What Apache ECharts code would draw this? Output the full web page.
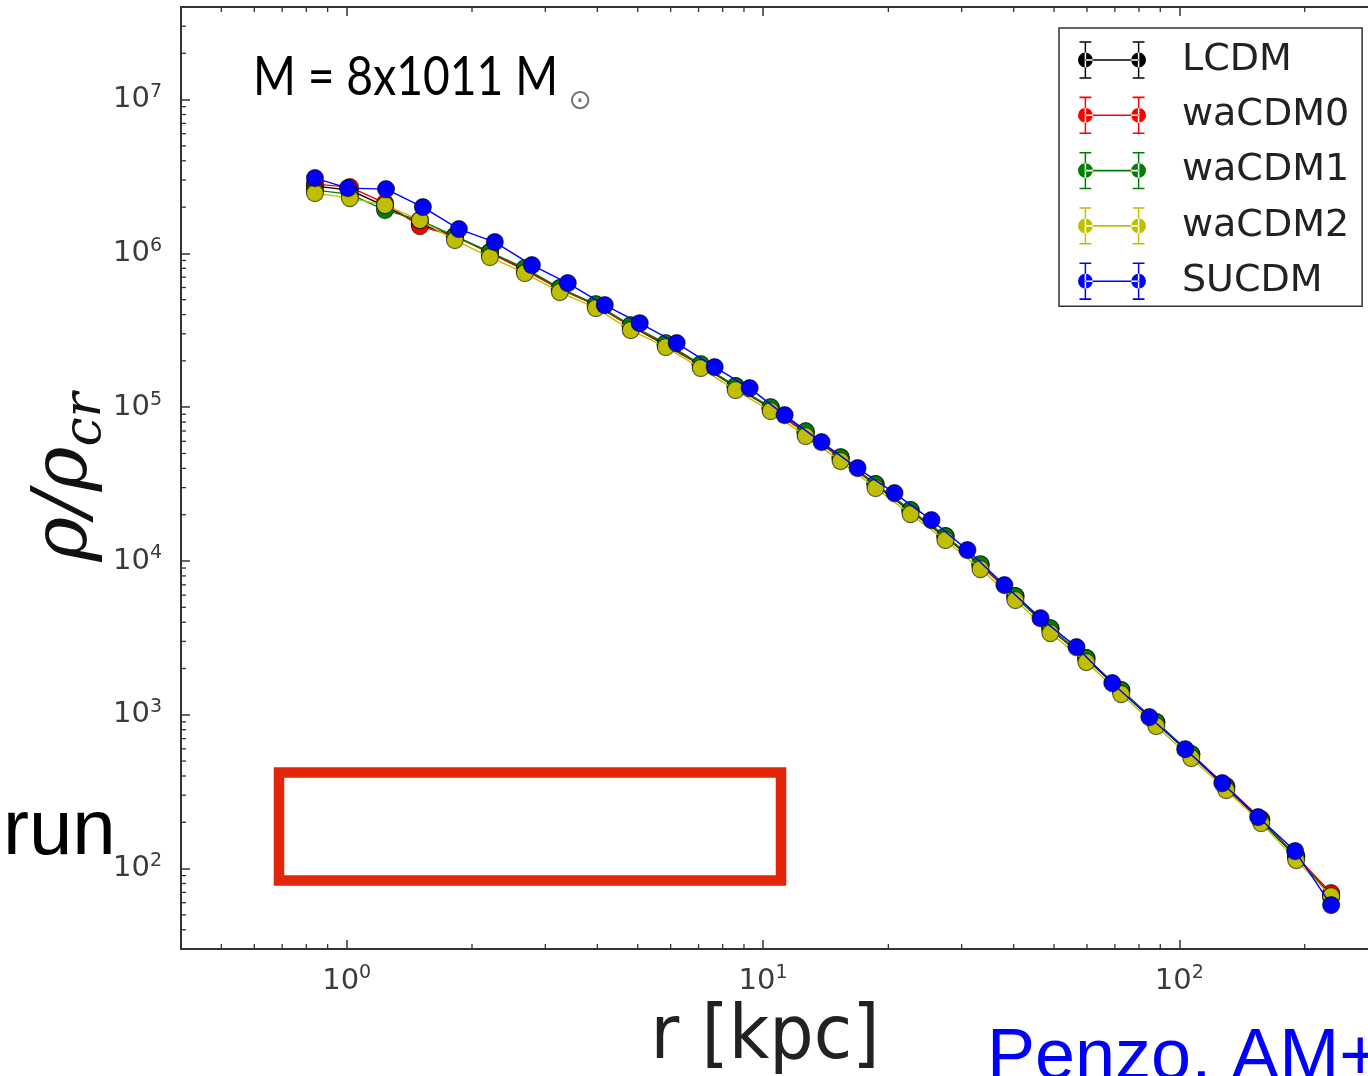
<!DOCTYPE html>
<html>
<head>
<meta charset="utf-8">
<script src="https://cdn.jsdelivr.net/npm/echarts@6/dist/echarts.min.js"></script>
<style>
html,body{margin:0;padding:0;background:#fff;}
#chart{width:1368px;height:1076px;}
</style>
</head>
<body>
<div id="chart"></div>
<script>
// ---- data ----
const seriesNames = ['LCDM', 'waCDM0', 'waCDM1', 'waCDM2', 'SUCDM'];
const seriesColors = ['#000000', '#ff0000', '#008000', '#bfbf00', '#0000ff'];

// radial bins (kpc)
const rBins30 = [0.839, 1.018, 1.236, 1.499, 1.819, 2.208, 2.679, 3.251, 3.966, 4.812,
  5.839, 7.086, 8.596, 10.43, 12.66, 15.36, 18.63, 22.61, 27.43, 33.29,
  40.38, 49.0, 59.8, 72.5, 88.0, 106.8, 129.6, 157.2, 190.8, 231.5];
const rBins29 = [0.839, 1.007, 1.243, 1.524, 1.860, 2.269, 2.785, 3.397, 4.168, 5.057,
  6.204, 7.654, 9.287, 11.27, 13.82, 16.87, 20.69, 25.38, 30.97, 38.0,
  46.4, 56.6, 69.0, 84.7, 103.3, 126.8, 154.6, 189.7, 231.5];

// rho / rho_cr
const lcdm = [2.739e6, 2.580e6, 2.030e6, 1.550e6, 1.296e6, 1.020e6, 7.79e5, 5.95e5, 4.61e5, 3.368e5,
  2.533e5, 1.878e5, 1.351e5, 9.86e4, 6.89e4, 4.67e4, 3.115e4, 2.110e4, 1.430e4, 9.40e3,
  5.83e3, 3.607e3, 2.302e3, 1.426e3, 883, 547, 333.7, 203.6, 118.8, 67.2];
const wacdm0 = [2.822e6, 2.698e6, 2.124e6, 1.505e6, 1.296e6, 1.004e6, 7.79e5, 5.86e5, 4.61e5, 3.368e5,
  2.572e5, 1.878e5, 1.372e5, 9.86e4, 6.78e4, 4.67e4, 3.162e4, 2.142e4, 1.452e4, 9.40e3,
  5.91e3, 3.607e3, 2.336e3, 1.447e3, 896, 555, 343.9, 209.8, 120.6, 69.3];
const wacdm1 = [2.580e6, 2.429e6, 1.912e6, 1.647e6, 1.296e6, 1.020e6, 8.02e5, 5.95e5, 4.68e5, 3.419e5,
  2.611e5, 1.906e5, 1.372e5, 1.001e5, 6.99e4, 4.74e4, 3.162e4, 2.142e4, 1.452e4, 9.54e3,
  5.91e3, 3.662e3, 2.336e3, 1.447e3, 896, 555, 338.8, 206.7, 120.6, 65.3];
const wacdm2 = [2.467e6, 2.289e6, 2.061e6, 1.647e6, 1.221e6, 9.46e5, 7.45e5, 5.60e5, 4.41e5, 3.17e5,
  2.46e5, 1.796e5, 1.292e5, 9.43e4, 6.49e4, 4.46e4, 2.98e4, 2.018e4, 1.367e4, 8.86e3,
  5.57e3, 3.40e3, 2.20e3, 1.363e3, 844, 523, 324, 197.7, 113.5, 66.2];
const sucdm = [3.088e6, 2.658e6, 2.619e6, 2.0e6, 1.439e6, 1.185e6, 8.39e5, 6.41e5, 4.61e5, 3.52e5,
  2.61e5, 1.823e5, 1.331e5, 8.88e4, 5.93e4, 4.02e4, 2.764e4, 1.845e4, 1.177e4, 6.97e3,
  4.25e3, 2.755e3, 1.607e3, 966, 598, 359.7, 216.2, 130, 57.9];

// axis ranges and minor tick values
const X_MIN = 0.4, X_MAX = 300;
const Y_MIN = 30, Y_MAX = 4e7;
const xMinorTicks = [0.5, 0.6, 0.7, 0.8, 0.9, 2, 3, 4, 5, 6, 7, 8, 9,
  20, 30, 40, 50, 60, 70, 80, 90, 200];
const yMinorTicks = [40, 50, 60, 70, 80, 90,
  200, 300, 400, 500, 600, 700, 800, 900,
  2000, 3000, 4000, 5000, 6000, 7000, 8000, 9000,
  2e4, 3e4, 4e4, 5e4, 6e4, 7e4, 8e4, 9e4,
  2e5, 3e5, 4e5, 5e5, 6e5, 7e5, 8e5, 9e5,
  2e6, 3e6, 4e6, 5e6, 6e6, 7e6, 8e6, 9e6,
  2e7, 3e7];

const seriesR = [rBins30, rBins30, rBins30, rBins30, rBins29];
const seriesRho = [lcdm, wacdm0, wacdm1, wacdm2, sucdm];

// ---- chart ----
const AX = '#333';
const TICKFONT = 'DejaVu Sans';

function powLabel(v) {
  const e = Math.log10(v);
  const r = Math.round(e);
  if (Math.abs(e - r) > 1e-6) return '';
  return '{b|10}{s|' + r + '}';
}
const labelRich = {
  b: { fontSize: 29, fontFamily: TICKFONT, color: '#3a3a3a', lineHeight: 34 },
  s: { fontSize: 19, fontFamily: TICKFONT, color: '#3a3a3a', lineHeight: 19, verticalAlign: 'top' }
};

function baseAxis(extra) {
  return Object.assign({
    type: 'log', logBase: 10,
    axisLine: { show: true, lineStyle: { color: AX, width: 2 } },
    axisTick: { show: true, inside: true, length: 9, lineStyle: { color: AX, width: 1.5 } },
    splitLine: { show: false },
    minorTick: { show: false },
    axisLabel: { show: false }
  }, extra);
}

const xAxes = [
  baseAxis({ position: 'bottom', min: X_MIN, max: X_MAX,
    axisLabel: { show: true, margin: 15, fontFamily: TICKFONT, fontSize: 29, formatter: powLabel, rich: labelRich } }),
  baseAxis({ position: 'top', min: X_MIN, max: X_MAX })
];
const yAxes = [
  baseAxis({ position: 'left', min: Y_MIN, max: Y_MAX,
    axisLabel: { show: true, margin: 19, fontFamily: TICKFONT, fontSize: 29, formatter: powLabel, rich: labelRich } }),
  baseAxis({ position: 'right', min: Y_MIN, max: Y_MAX })
];

const ICON = 'path://' +
  'M6.25 1 L7.75 1 L7.75 37 L6.25 37 Z ' +
  'M1 0 L13 0 L13 1.6 L1 1.6 Z M1 36.4 L13 36.4 L13 38 L1 38 Z ' +
  'M60.25 1 L61.75 1 L61.75 37 L60.25 37 Z ' +
  'M55 0 L67 0 L67 1.6 L55 1.6 Z M55 36.4 L67 36.4 L67 38 L55 38 Z ' +
  'M7 18.2 L61 18.2 L61 19.8 L7 19.8 Z ' +
  'M-0.5 19 A7.5 7.5 0 1 0 14.5 19 A7.5 7.5 0 1 0 -0.5 19 Z ' +
  'M53.5 19 A7.5 7.5 0 1 0 68.5 19 A7.5 7.5 0 1 0 53.5 19 Z';

const series = seriesNames.map((name, i) => ({
  name: name,
  type: 'line',
  xAxisIndex: 0, yAxisIndex: 0,
  data: seriesR[i].map((r, j) => [r, seriesRho[i][j]]),
  symbol: 'circle',
  symbolSize: 17,
  showAllSymbol: true,
  z: 10 + i,
  lineStyle: { color: seriesColors[i], width: 1.4 },
  itemStyle: { color: seriesColors[i], borderColor: 'rgba(0,0,0,0.6)', borderWidth: 1.2 },
  emphasis: { disabled: true }
}));

// minor ticks drawn through the axes' own scales
series.push({
  type: 'custom', name: 'xMinor', silent: true, clip: false, z: 5,
  xAxisIndex: 0, yAxisIndex: 0,
  data: xMinorTicks.map(v => [v, Y_MIN]),
  renderItem: function (params, api) {
    const v = api.value(0);
    const pb = api.coord([v, Y_MIN]);
    const pt = api.coord([v, Y_MAX]);
    const st = { stroke: AX, lineWidth: 1.3 };
    return { type: 'group', children: [
      { type: 'line', shape: { x1: pb[0], y1: pb[1], x2: pb[0], y2: pb[1] - 5 }, style: st },
      { type: 'line', shape: { x1: pt[0], y1: pt[1], x2: pt[0], y2: pt[1] + 5 }, style: st }
    ] };
  }
});
series.push({
  type: 'custom', name: 'yMinor', silent: true, clip: false, z: 5,
  xAxisIndex: 0, yAxisIndex: 0,
  data: yMinorTicks.map(v => [X_MIN, v]),
  renderItem: function (params, api) {
    const v = api.value(1);
    const pl = api.coord([X_MIN, v]);
    const st = { stroke: AX, lineWidth: 1.3 };
    return { type: 'line', shape: { x1: pl[0], y1: pl[1], x2: pl[0] + 5, y2: pl[1] }, style: st };
  }
});

const option = {
  animation: false,
  backgroundColor: '#ffffff',
  grid: { left: 181, top: 7, right: -10, bottom: 127, containLabel: false, outerBoundsMode: 'none' },
  xAxis: xAxes,
  yAxis: yAxes,
  legend: {
    data: seriesNames,
    orient: 'vertical',
    left: 1059, top: 28,
    backgroundColor: '#ffffff',
    borderColor: '#333', borderWidth: 1.5, borderRadius: 0,
    padding: [12, 13, 5, 19],
    itemGap: 15.3,
    itemWidth: 68, itemHeight: 38,
    icon: ICON,
    itemStyle: { borderWidth: 0 },
    textStyle: { fontFamily: 'DejaVu Sans', fontSize: 38, color: '#222', lineHeight: 40, padding: [0, 0, 0, 31] },
    selectedMode: false
  },
  series: series,
  graphic: [
    { type: 'text', x: 253, y: 77, z: 100, scaleX: 0.84,
      style: { text: 'M = 8x1011 M', font: '55px Lato', fill: '#000', align: 'left', verticalAlign: 'middle' } },
    { type: 'text', x: 580, y: 102, z: 100,
      style: { text: '⊙', font: '28px "DejaVu Sans"', fill: '#777', align: 'center', verticalAlign: 'middle' } },
    { type: 'text', x: 66, y: 477, rotation: Math.PI / 2, z: 100,
      style: { text: '{a|ρ/ρ}{b|cr}', align: 'center', verticalAlign: 'middle',
        rich: { a: { fontFamily: 'DejaVu Serif', fontStyle: 'italic', fontSize: 76, fill: '#111', lineHeight: 92 },
                b: { fontFamily: 'DejaVu Serif', fontStyle: 'italic', fontSize: 52, fill: '#111', lineHeight: 52, verticalAlign: 'bottom' } } } },
    { type: 'text', x: 765, y: 1038, z: 100, scaleY: 1.08,
      style: { text: 'r [kpc]', font: '70px "DejaVu Sans"', fill: '#222', align: 'center', verticalAlign: 'middle' } },
    { type: 'text', x: 3, y: 832, z: 100,
      style: { text: 'run', font: '78px "Liberation Sans"', fill: '#000', align: 'left', verticalAlign: 'middle' } },
    { type: 'text', x: 987, y: 1059, z: 100,
      style: { text: 'Penzo, AM+', font: '72px "Liberation Sans"', fill: '#0000ff', align: 'left', verticalAlign: 'middle' } },
    { type: 'rect', z: 100,
      shape: { x: 279, y: 772.5, width: 502, height: 108 },
      style: { fill: 'none', stroke: '#e3260a', lineWidth: 10.5 } }
  ]
};

const chart = echarts.init(document.getElementById('chart'), null, { renderer: 'canvas' });
chart.setOption(option);
</script>
</body>
</html>
